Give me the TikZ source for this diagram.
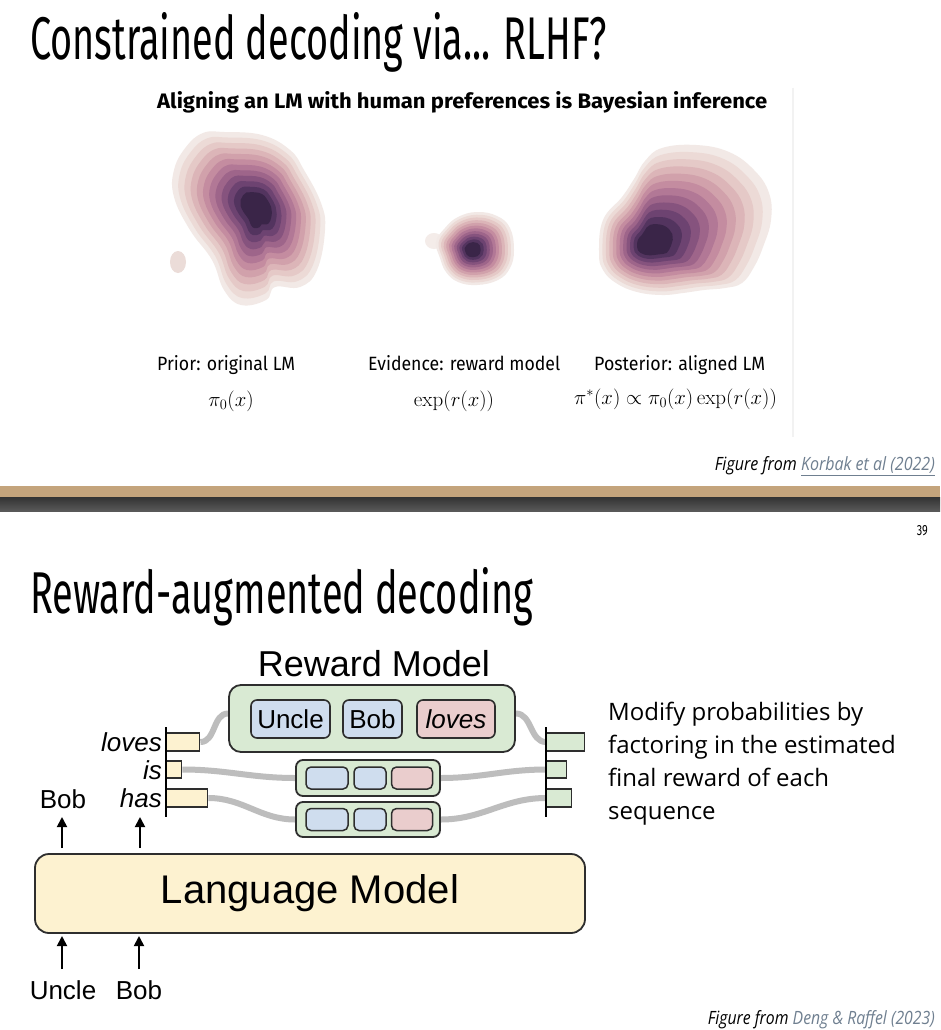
\documentclass[tikz,border=0pt]{standalone}
\usepackage{fontspec}
\usepackage{graphicx}
\usetikzlibrary{arrows.meta,calc,backgrounds}
\newfontfamily\diagfont{Liberation Sans}
\newfontfamily\bodyfont{Open Sans}
\newfontfamily\condfont{Fira Sans}
\definecolor{lmfill}{HTML}{FDF2D0}
\definecolor{rmfill}{HTML}{D9EAD3}
\definecolor{tokblue}{HTML}{CFDDEE}
\definecolor{tokpink}{HTML}{EACDCD}
\definecolor{wire}{HTML}{BDBDBD}
\definecolor{edge}{HTML}{2E2E2E}
\definecolor{tanbar}{HTML}{C4A47C}
\definecolor{linkc}{HTML}{6F7F90}
\definecolor{islc}{HTML}{EBDCD8}
\definecolor{outerc}{HTML}{F4ECE9}
\newcommand\blobL{plot[smooth cycle,tension=0.7] coordinates {(-34,-76) (4,-73) (32,-58) (46,-38) (63,-5) (67,22) (59,62) (42,79) (17,79) (8,92) (-17,97) (-34,82) (-46,52) (-68,22) (-84,-11) (-84,-38) (-72,-61) (-55,-75)}}
\newcommand\blobM{plot[smooth cycle,tension=0.7] coordinates {(-36,-8) (-27,-22) (-14,-33) (5,-38) (25,-34) (38,-22) (42,0) (38,18) (26,30) (5,35) (-14,32) (-26,22) (-32,8)}}
\newcommand\blobR{plot[smooth cycle,tension=0.7] coordinates {(-48,8) (-44,-25) (-25,-48) (-13,-66) (-2,-84) (15,-97) (49,-100) (82,-93) (107,-75) (122,-52) (124,-25) (116,2) (107,22) (95,38) (78,43) (57,45) (36,48) (15,50) (-10,47) (-31,38) (-44,25)}}
\tikzset{
  rbox/.style={draw=edge, line width=1.8pt, rounded corners=12pt, fill=rmfill, inner sep=0pt},
  tokbox/.style={draw=edge, line width=1.6pt, rounded corners=6pt, inner sep=0pt, minimum height=38pt, font=\diagfont\fontsize{26}{30}\selectfont},
  smalltok/.style={draw=edge, line width=1.5pt, rounded corners=5pt, inner sep=0pt, minimum height=22pt},
  barbox/.style={draw=edge, line width=1.4pt, inner sep=0pt, anchor=west},
  wireln/.style={draw=wire, line width=6pt},
  arr/.style={-{Triangle[length=10pt,width=10pt]}, line width=1.8pt, draw=black},
  dlabel/.style={font=\diagfont\fontsize{26}{30}\selectfont, inner sep=0pt},
  ilabel/.style={font=\diagfont\itshape\fontsize{26}{30}\selectfont, inner sep=0pt, anchor=base east},
  mathlbl/.style={font=\fontsize{21}{25}\selectfont, inner sep=0pt},
}
\begin{document}
\begin{tikzpicture}[x=1pt,y=-1pt]
\begin{scope}[on background layer]
\fill[white] (0,0) rectangle (940,1030);
\end{scope}
\useasboundingbox (0,0) rectangle (940,1030);

% ---------- top slide ----------
\node[anchor=base west, inner sep=0pt] (title1) at (30,60) {\resizebox{577pt}{47pt}{\condfont Constrained decoding via... RLHF?}};
\node[anchor=base west, inner sep=0pt] (sub) at (157,109) {\resizebox{610pt}{17pt}{\condfont\bfseries Aligning an LM with human preferences is Bayesian inference}};
\draw[color=black!5, line width=1.2pt] (793,88) -- (793,437);

% blobs
\fill[outerc] (434,241) ellipse [x radius=9, y radius=8];
\foreach \k/\c in {0/F2E9E6,1/ECDAD6,2/E5C9C7,3/DCB5B8,4/D1A1AB,5/C48CA0,6/B27896,7/9E658A,8/86537E,9/6D4371,10/53345F,11/3A2548} {
  \definecolor{lv}{HTML}{\c}
  \pgfmathsetmacro\s{1-0.072*\k}
  \fill[lv, shift={(258,208)}, scale=\s] \blobL;
  \fill[lv, shift={(472,250)}, scale=\s] \blobM;
  \fill[lv, shift={(647,245)}, scale=\s] \blobR;
}
\fill[islc] (178,262) ellipse [x radius=8, y radius=11];

\node[anchor=base west, inner sep=0pt] (prior) at (157,370) {\resizebox{138pt}{15pt}{\condfont Prior: original LM}};
\node[anchor=base west, inner sep=0pt] (evid) at (368,370) {\resizebox{192pt}{15pt}{\condfont Evidence: reward model}};
\node[anchor=base west, inner sep=0pt] (post) at (594,370) {\resizebox{171pt}{15pt}{\condfont Posterior: aligned LM}};
\node[mathlbl] (m1) at (231,401) {$\pi_0(x)$};
\node[mathlbl] (m2) at (454,401) {$\exp(r(x))$};
\node[mathlbl] (m3) at (675.5,399) {$\pi^*(x)\propto\pi_0(x)\exp(r(x))$};

\node[anchor=base east, inner sep=0pt] (cite1) at (935,470) {\resizebox{220pt}{14pt}{\bodyfont\itshape Figure from \textcolor{linkc}{\underline{Korbak et al (2022)}}}};

% separator
\fill[tanbar] (0,486) rectangle (940,497);
\shade[top color=black!80, bottom color=black!65] (0,497) rectangle (940,511);
\node[anchor=base east, inner sep=0pt] (pnum) at (928,535) {\resizebox{11pt}{10pt}{\condfont 39}};

% ---------- bottom slide ----------
\node[anchor=base west, inner sep=0pt] (title2) at (30,613) {\resizebox{503pt}{46pt}{\condfont Reward-augmented decoding}};

\node[font=\diagfont\fontsize{36}{40}\selectfont, inner sep=0pt, anchor=base] (rmlabel) at (374,676) {Reward Model};

\node[rbox, minimum width=286pt, minimum height=67pt] (rm) at (372,718.5) {};
\node[rbox, rounded corners=7pt, minimum width=144pt, minimum height=36pt] (box2) at (368,778) {};
\node[rbox, rounded corners=7pt, minimum width=144pt, minimum height=35pt] (box3) at (368,819.5) {};
\node[barbox, fill=lmfill, minimum width=33pt, minimum height=18pt] (lb1) at (166,742) {};
\node[barbox, fill=lmfill, minimum width=15pt, minimum height=17pt] (lb2) at (166,769.5) {};
\node[barbox, fill=lmfill, minimum width=41pt, minimum height=18pt] (lb3) at (166,798) {};
\node[barbox, fill=rmfill, minimum width=38pt, minimum height=18pt] (rb1) at (546,742) {};
\node[barbox, fill=rmfill, minimum width=20pt, minimum height=17pt] (rb2) at (546,769.5) {};
\node[barbox, fill=rmfill, minimum width=25pt, minimum height=18pt] (rb3) at (546,798) {};

\begin{scope}[on background layer]
\path[wireln] (lb1.east) to[out=0,in=180] ($(rm.west)+(0,-5)$);
\path[wireln] (lb2.east) to[out=0,in=180] (box2.west);
\path[wireln] (lb3.east) to[out=0,in=180] (box3.west);
\path[wireln] ($(rm.east)+(0,-5)$) to[out=0,in=180] (rb1.west);
\path[wireln] (box2.east) to[out=0,in=180] (rb2.west);
\path[wireln] (box3.east) to[out=0,in=180] (rb3.west);
\end{scope}

% axes
\coordinate (laxT) at (166,727);
\coordinate (laxB) at (166,817);
\coordinate (raxT) at (546,727);
\coordinate (raxB) at (546,817);
\draw[line width=2pt] (laxT) -- (laxB);
\draw[line width=2pt] (raxT) -- (raxB);

% tokens
\node[tokbox, fill=tokblue, minimum width=79pt] (tU) at (290.5,719) {Uncle};
\node[tokbox, fill=tokblue, minimum width=59pt] (tB) at (372.5,719) {Bob};
\node[tokbox, fill=tokpink, minimum width=78pt, font=\diagfont\itshape\fontsize{26}{30}\selectfont] (tL) at (456,719) {loves};
\node[smalltok, fill=tokblue, minimum width=42pt] (s2a) at (327,778) {};
\node[smalltok, fill=tokblue, minimum width=32pt] (s2b) at (370,778) {};
\node[smalltok, fill=tokpink, minimum width=41pt] (s2c) at (412,778) {};
\node[smalltok, fill=tokblue, minimum width=42pt] (s3a) at (327,819.5) {};
\node[smalltok, fill=tokblue, minimum width=32pt] (s3b) at (370,819.5) {};
\node[smalltok, fill=tokpink, minimum width=41pt] (s3c) at (412,819.5) {};

% labels at the left chart
\node[ilabel] (wl) at (162,751) {loves};
\node[ilabel] (wi) at (162,779) {is};
\node[ilabel] (wh) at (162,807) {has};
\node[dlabel, anchor=base] (outBob) at (63,808) {Bob};

% language model
\node[draw=edge, line width=1.8pt, rounded corners=14pt, fill=lmfill, minimum width=550pt, minimum height=79pt, inner sep=0pt, font=\diagfont\fontsize{40}{44}\selectfont] (lm) at (310,893.5) {Language Model};

\coordinate (o1s) at (62,848);
\coordinate (o1e) at (62,817);
\coordinate (o2s) at (140,848);
\coordinate (o2e) at (140,817);
\draw[arr] (o1s) -- (o1e);
\draw[arr] (o2s) -- (o2e);

\node[dlabel, anchor=base] (inU) at (63,999) {Uncle};
\node[dlabel, anchor=base] (inB) at (139,999) {Bob};
\coordinate (i1s) at (62,969);
\coordinate (i1e) at (62,936);
\coordinate (i2s) at (139,969);
\coordinate (i2e) at (139,936);
\draw[arr] (i1s) -- (i1e);
\draw[arr] (i2s) -- (i2e);

% right text
\node[anchor=north west, align=left, inner sep=0pt, font=\bodyfont\fontsize{24}{33}\selectfont] (desc) at (608,702) {Modify probabilities by\\factoring in the estimated\\final reward of each\\sequence};

\node[anchor=base east, inner sep=0pt] (cite2) at (935,1024) {\resizebox{227pt}{14pt}{\bodyfont\itshape Figure from \textcolor{linkc}{\underline{Deng \& Raffel (2023)}}}};
\end{tikzpicture}
\end{document}
